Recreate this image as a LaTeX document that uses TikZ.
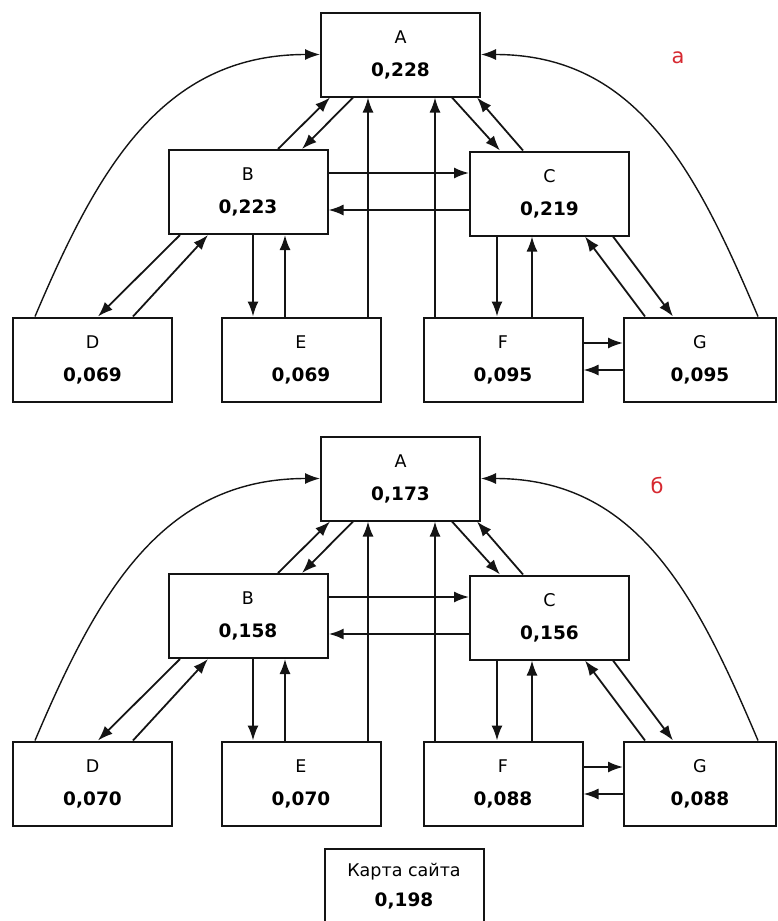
\documentclass[tikz,border=0pt]{standalone}
\usepackage{fontspec}
\setmainfont{DejaVu Sans}
\usetikzlibrary{arrows.meta,positioning}
\definecolor{ink}{HTML}{141414}
\definecolor{mark}{HTML}{D62830}
\newcommand\valfont{\bfseries\fontsize{18.5}{20}\selectfont}

\begin{document}
\begin{tikzpicture}[x=1pt,y=1pt,>={Latex[length=15pt,width=11pt]},
  box/.style={draw=ink,line width=2pt,minimum width=159pt,minimum height=84pt,align=center,inner sep=0pt,font=\fontsize{17.5}{20}\selectfont},
  link/.style={->,ink,line width=1.8pt},
  arcline/.style={->,ink,line width=1.4pt,looseness=1.05},
  tag/.style={text=mark,font=\fontsize{21}{24}\selectfont}]
\useasboundingbox (0,0) rectangle (777,-921);
\clip (0,0) rectangle (777,-921);
% upper diagram (a)
\node[box] (A1) at (400.5,-54.5) {A\\[13pt]\valfont 0,228};
\node[box] (B1) at (248,-192) {B\\[13pt]\valfont 0,223};
\node[box] (C1) at (549.5,-193.5) {C\\[13pt]\valfont 0,219};
\node[box] (D1) at (92.5,-359.5) {D\\[13pt]\valfont 0,069};
\node[box] (E1) at (301,-359.5) {E\\[13pt]\valfont 0,069};
\node[box] (F1) at (503,-359.5) {F\\[13pt]\valfont 0,095};
\node[box,minimum width=152pt] (G1) at (700,-359.5) {G\\[13pt]\valfont 0,095};
\node[tag] (la) at (678,-58) {а};
% lower diagram (б)
\node[box] (A2) at (400.5,-478.5) {A\\[13pt]\valfont 0,173};
\node[box] (B2) at (248,-616) {B\\[13pt]\valfont 0,158};
\node[box] (C2) at (549.5,-617.5) {C\\[13pt]\valfont 0,156};
\node[box] (D2) at (92.5,-783.5) {D\\[13pt]\valfont 0,070};
\node[box] (E2) at (301,-783.5) {E\\[13pt]\valfont 0,070};
\node[box] (F2) at (503,-783.5) {F\\[13pt]\valfont 0,088};
\node[box,minimum width=152pt] (G2) at (700,-783.5) {G\\[13pt]\valfont 0,088};
\node[tag] (lb) at (657,-485) {б};
\node[box,text depth=12pt] (map) at (404,-891) {Карта сайта\\[10pt]\valfont 0,198};
% links, the same in both diagrams
\foreach \n in {1,2} {
  \draw[link] ([xshift=30pt]B\n.north) -- ([xshift=-70.5pt]A\n.south);
  \draw[link] ([xshift=-47.5pt]A\n.south) -- ([xshift=54pt]B\n.north);
  \draw[link] ([xshift=67pt]E\n.north) -- ([xshift=67pt]E\n.north |- A\n.south);
  \draw[link] ([xshift=-68pt]F\n.north) -- ([xshift=-68pt]F\n.north |- A\n.south);
  \draw[link] ([xshift=51.5pt]A\n.south) -- ([xshift=-49.5pt]C\n.north);
  \draw[link] ([xshift=-26.5pt]C\n.north) -- ([xshift=76.5pt]A\n.south);
  \draw[link] ([yshift=19pt]B\n.east) -- ([yshift=19pt]B\n.east -| C\n.west);
  \draw[link] ([xshift=5pt]B\n.south) -- ([xshift=5pt]B\n.south |- E\n.north);
  \draw[link] ([xshift=-16pt]E\n.north) -- ([xshift=-16pt]E\n.north |- B\n.south);
  \draw[link] ([xshift=-68pt]B\n.south) -- ([xshift=5.5pt]D\n.north);
  \draw[link] ([xshift=40.5pt]D\n.north) -- ([xshift=-40pt]B\n.south);
  \draw[link] ([xshift=-52.5pt]C\n.south) -- ([xshift=-52.5pt]C\n.south |- F\n.north);
  \draw[link] ([xshift=29pt]F\n.north) -- ([xshift=29pt]F\n.north |- C\n.south);
  \draw[link] ([xshift=-55pt]G\n.north) -- ([xshift=35.5pt]C\n.south);
  \draw[link] ([xshift=63.5pt]C\n.south) -- ([xshift=-27pt]G\n.north);
  \draw[link] ([yshift=16.5pt]F\n.east) -- ([yshift=16.5pt]F\n.east -| G\n.west);
  \draw[link] ([yshift=-10.5pt]G\n.west) -- ([yshift=-10.5pt]G\n.west -| F\n.east);
  \draw[arcline] ([xshift=-57.5pt]D\n.north) to[out=67,in=180] (A\n.west);
  \draw[arcline] ([xshift=58pt]G\n.north) to[out=113,in=0] (A\n.east);
}
\draw[link] ([yshift=-16.5pt]C1.west) -- ([yshift=-16.5pt]C1.west -| B1.east);
\draw[link,line width=2.6pt] ([yshift=-16.5pt]C2.west) -- ([yshift=-16.5pt]C2.west -| B2.east);
\end{tikzpicture}
\end{document}
